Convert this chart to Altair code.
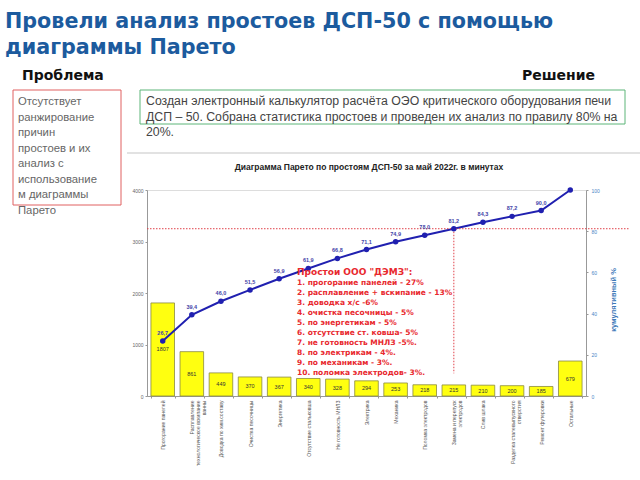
import altair as alt
import pandas as pd

# ---------------- data ----------------
categories = [
    "Прогорание панелей",
    "Расплавление|технологическое вскипание|ванны",
    "Доводка по хим.составу",
    "Очистка песочницы",
    "Энергетика",
    "Отсутствие стальковша",
    "Не готовность МНЛЗ",
    "Электрика",
    "Механика",
    "Поломка электродов",
    "Замена и перепуск|электродов",
    "Слив шлака",
    "Разделка сталевыпускного|отверстия",
    "Ремонт футеровки",
    "Остальные",
]
minutes = [1807, 861, 449, 370, 367, 340, 328, 294, 253, 218, 215, 210, 200, 185, 679]
cum_pct = [26.7, 39.4, 46.0, 51.5, 56.9, 61.9, 66.8, 71.1, 74.9, 78.0, 81.2, 84.3, 87.2, 90.0, 100.0]
left_ticks = [0, 1000, 2000, 3000, 4000]
right_ticks = [0, 10, 20, 30, 40, 50, 60, 70, 80, 90, 100]
pareto_level = 81.2

title_lines = ["Провели анализ простоев ДСП-50 с помощью", "диаграммы Парето"]
problem_head = "Проблема"
solution_head = "Решение"
problem_lines = ["Отсутствует", "ранжирование", "причин", "простоев и их", "анализ с",
                 "использование", "м диаграммы", "Парето"]
solution_lines = ["Создан электронный калькулятор расчёта ОЭО критического оборудования печи",
                  "ДСП – 50. Собрана статистика простоев и проведен их  анализ по правилу 80% на",
                  "20%."]
chart_title = "Диаграмма Парето по простоям ДСП-50 за май 2022г. в минутах"
note_head = 'Простои ООО "ДЭМЗ":'
note_lines = ["1. прогорание панелей - 27%",
              "2. расплавление + вскипание - 13%",
              "3. доводка х/с -6%",
              "4. очистка песочницы - 5%",
              "5. по энергетикам - 5%",
              "6. отсутствие ст. ковша- 5%",
              "7. не готовность МНЛЗ -5%.",
              "8. по электрикам - 4%.",
              "9. по механикам - 3%.",
              "10. поломка электродов- 3%."]
right_title = "кумулятивный %"

df = pd.DataFrame({"cat": categories, "minutes": minutes, "cum": cum_pct})
df["cum_label"] = [f"{v:.1f}".replace(".", ",") for v in cum_pct]
one = pd.DataFrame({"k": [0]})

# ---------------- scales / axes ----------------
xenc = alt.X(
    "cat:N", sort=categories,
    scale=alt.Scale(domain=categories, paddingInner=0.19, paddingOuter=0.135),
    axis=alt.Axis(title="", labelAngle=-90, labelFontSize=5.1, labelColor="#555555",
                  labelPadding=2, labelExpr="split(datum.label, '|')", labelLineHeight=6,
                  labelOverlap=False, labelLimit=200, tickSize=2, tickBand="extent",
                  tickColor="#999999", domainColor="#999999"),
)
yleft = alt.Scale(domain=[0, 4000])
yright = alt.Scale(domain=[0, 100])

bars = alt.Chart(df).mark_bar(color="#ffff10", stroke="#8a8a40", strokeWidth=0.8).encode(
    x=xenc,
    y=alt.Y("minutes:Q", scale=yleft,
            axis=alt.Axis(title="", values=left_ticks, format="d", labelFontSize=5,
                          labelColor="#666666", tickSize=2, labelPadding=2, grid=False,
                          tickColor="#999999", domainColor="#999999")),
)
bar_text = alt.Chart(df).transform_calculate(mid="datum.minutes / 2").mark_text(
    fontSize=5.5, color="#333333").encode(
    x=xenc, y=alt.Y("mid:Q", scale=yleft), text="minutes:Q")
left_group = alt.layer(bars, bar_text)

line = alt.Chart(df).mark_line(color="#2020b0", strokeWidth=2).encode(
    x=xenc,
    y=alt.Y("cum:Q", scale=yright,
            axis=alt.Axis(orient="right", title="", values=right_ticks, labelFontSize=5,
                          labelColor="#4a86c5", tickSize=2, labelPadding=3, grid=False,
                          tickColor="#999999", domainColor="#999999")),
)
pts = alt.Chart(df).mark_point(filled=True, size=30, color="#2020b0", opacity=1).encode(
    x=xenc, y=alt.Y("cum:Q", scale=yright))
pt_text = alt.Chart(df).transform_filter("datum.cum < 100").mark_text(
    fontSize=5.5, fontWeight="bold", color="#4343a8", dy=-8).encode(
    x=xenc, y=alt.Y("cum:Q", scale=yright), text="cum_label:N")
hrule = alt.Chart(one).mark_rule(color="#e0404a", strokeDash=[1.5, 1.5], strokeWidth=1).encode(
    y=alt.datum(pareto_level), x=alt.value(0), x2=alt.value(483))
vrule = alt.Chart(df).transform_filter(alt.datum.cat == categories[10]).mark_rule(
    color="#e0404a", strokeDash=[1.5, 1.5], strokeWidth=1).encode(
    x=xenc, y=alt.Y("cum:Q", scale=yright), y2=alt.datum(11))
right_group = alt.layer(line, hrule, vrule, pts, pt_text)


# ---------------- slide decorations ----------------
def txt(text, x, y, **kw):
    return alt.Chart(one).mark_text(**kw).encode(
        x=alt.value(x), y=alt.value(y), text=alt.value(text))


def box(x1, x2, y1, y2, color):
    return alt.Chart(one).mark_rect(fill="transparent", stroke=color, strokeWidth=1).encode(
        x=alt.value(x1), x2=alt.value(x2), y=alt.value(y1), y2=alt.value(y2))


deco = [
    txt("\n".join(title_lines), -142, -162, lineBreak="\n", lineHeight=26, align="left",
        baseline="alphabetic", font="DejaVu Sans", fontSize=20.7, fontWeight="bold",
        color="#1c5b9e"),
    txt(problem_head, -125, -110, align="left", baseline="alphabetic", font="DejaVu Sans",
        fontSize=14, fontWeight="bold", color="#111111"),
    txt(solution_head, 448, -110, align="right", baseline="alphabetic", font="DejaVu Sans",
        fontSize=14, fontWeight="bold", color="#111111"),
    box(-134, -26, -100, 15, "#e06060"),
    box(-7, 478, -100, -66, "#5cb578"),
    txt("\n".join(problem_lines), -129, -85, lineBreak="\n", lineHeight=15.5, align="left",
        baseline="alphabetic", font="Liberation Sans", fontSize=11.3, color="#666666"),
    txt("\n".join(solution_lines), -1, -85, lineBreak="\n", lineHeight=15.5, align="left",
        baseline="alphabetic", font="Liberation Sans", fontSize=12.3, color="#444444"),
    alt.Chart(one).mark_rule(color="#d9d9d9", strokeWidth=1.5).encode(
        x=alt.value(-20), x2=alt.value(493), y=alt.value(-37)),
    txt(chart_title, 222, -23, align="center", baseline="middle", font="Liberation Sans",
        fontSize=8.5, fontWeight="bold", color="#222222"),
    txt(note_head, 150, 84.5, align="left", baseline="alphabetic", font="DejaVu Sans",
        fontSize=9, fontWeight="bold", color="#e8282e"),
    txt("\n".join(note_lines), 150, 95, lineBreak="\n", lineHeight=10, align="left",
        baseline="alphabetic", font="DejaVu Sans", fontSize=7.5, fontWeight="bold",
        color="#e8282e"),
    txt(right_title, 467, 110, angle=270, align="center", baseline="middle",
        font="Liberation Sans", fontSize=7.5, fontWeight="bold", color="#3d79b8"),
]

chart = alt.layer(left_group, right_group, *deco).resolve_scale(y="independent").properties(
    width=439, height=206, autosize="none",
    padding={"left": 147, "top": 190, "right": 54, "bottom": 84},
    background="white",
).configure_view(strokeWidth=0).configure(font="Liberation Sans")

chart.save("out.html", embed_options={"renderer": "svg", "actions": False})
